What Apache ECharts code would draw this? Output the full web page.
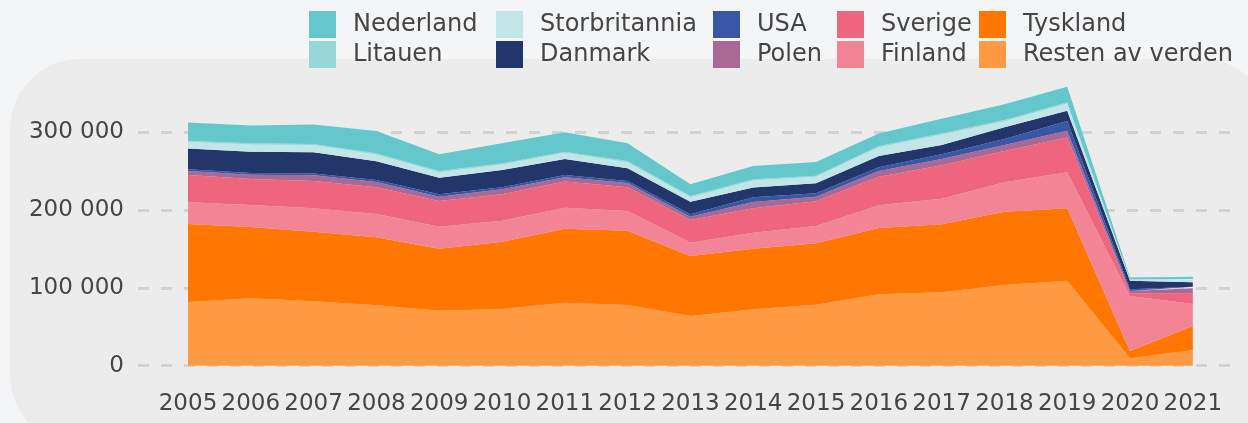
<!DOCTYPE html>
<html>
<head>
<meta charset="utf-8">
<script src="https://cdn.jsdelivr.net/npm/echarts@6/dist/echarts.min.js"></script>
<style>
html,body{margin:0;padding:0;background:#f4f5f7;}
#c{width:1248px;height:423px;}
</style>
</head>
<body>
<div id="c"></div>
<script>
// Data (values in persons/units)
const years = ['2005','2006','2007','2008','2009','2010','2011','2012','2013','2014','2015','2016','2017','2018','2019','2020','2021'];
const yTicks = [0, 100000, 200000, 300000];

const resten       = [81800, 86500, 82700, 77500, 70600, 72800, 80900, 77900, 63800, 72400, 78300, 91700, 94200, 103600, 109100, 9500, 20200];
const tyskland     = [100100, 91500, 89300, 87300, 79600, 86400, 95000, 95400, 77000, 77800, 78800, 85100, 87300, 94100, 92900, 9400, 30800];
const finland      = [27900, 28200, 30000, 29900, 28200, 27000, 27000, 25300, 17100, 20500, 22200, 29100, 32900, 37700, 46200, 70600, 28200];
const sverige      = [35000, 33400, 35000, 34300, 33000, 33900, 33400, 30400, 29100, 31300, 31700, 36700, 43000, 40200, 44900, 3500, 13700];
const polen        = [5000, 5500, 7500, 6800, 5500, 6400, 5600, 5500, 4200, 8100, 5900, 7300, 8000, 7700, 8500, 3000, 6400];
const usa          = [2500, 2200, 2200, 2600, 3100, 2600, 3000, 2600, 3100, 6000, 4400, 4700, 6000, 7700, 12500, 2200, 2100];
const danmark      = [26600, 27300, 27300, 24000, 21300, 22200, 20500, 16300, 16200, 12800, 12800, 14500, 12000, 15000, 13200, 10700, 5600];
const storbritannia= [8300, 9300, 9200, 8800, 7100, 7100, 7900, 7900, 5800, 8800, 8300, 11300, 13500, 7900, 9300, 1400, 3200];
const litauen      = [1500, 1500, 1500, 1500, 1500, 1500, 1500, 1500, 1500, 1500, 1500, 1500, 1500, 1500, 1500, 800, 1000];
const nederland    = [23600, 23100, 24900, 28600, 21400, 25700, 24900, 22700, 15000, 17100, 17600, 16300, 18500, 20200, 20000, 2100, 3000];

const seriesDefs = [
  ['Resten av verden', resten, '#ff9a42'],
  ['Tyskland', tyskland, '#ff7600'],
  ['Finland', finland, '#f28496'],
  ['Sverige', sverige, '#f0657e'],
  ['Polen', polen, '#a96996'],
  ['USA', usa, '#3a57a7'],
  ['Danmark', danmark, '#22366b'],
  ['Storbritannia', storbritannia, '#c2e6e7'],
  ['Litauen', litauen, '#96d8da'],
  ['Nederland', nederland, '#63c7cb']
];

const legendCols = [
  [['Nederland','Litauen'], 309],
  [['Storbritannia','Danmark'], 496],
  [['USA','Polen'], 713],
  [['Sverige','Finland'], 837],
  [['Tyskland','Resten av verden'], 979]
];

const FONT = 'DejaVu Sans';
const TXT = '#454545';

const chart = echarts.init(document.getElementById('c'), null, {renderer:'canvas'});

const option = {
  backgroundColor: '#f4f5f7',
  animation: false,
  graphic: [{
    type: 'rect',
    z: -100,
    silent: true,
    shape: {x: 10, y: 59, width: 1262, height: 386, r: 70},
    style: {fill: '#ececec'}
  }],
  legend: legendCols.map(([items, left]) => ({
    orient: 'vertical',
    left: left,
    top: 11,
    padding: 0,
    itemWidth: 27,
    itemHeight: 27,
    itemGap: 3,
    icon: 'rect',
    selectedMode: false,
    data: items,
    textStyle: {fontFamily: FONT, fontSize: 24, color: TXT, padding: [0,0,0,12]}
  })),
  grid: [
    {left: 138, right: 13, top: 132, bottom: 57.3},
    {left: 188, right: 55.2, top: 132, bottom: 57.3}
  ],
  xAxis: [
    {gridIndex: 0, type: 'value', min: 0, max: 1, show: false},
    {gridIndex: 1, type: 'category', data: years, boundaryGap: false,
      axisLine: {show: false}, axisTick: {show: false}, splitLine: {show: false},
      axisLabel: {interval: 0, margin: 27, fontFamily: FONT, fontSize: 23, color: TXT}}
  ],
  yAxis: [
    {gridIndex: 0, type: 'value', min: yTicks[0], max: yTicks[yTicks.length-1], interval: 100000,
      axisLine: {show: false}, axisTick: {show: false},
      axisLabel: {margin: 14, fontFamily: FONT, fontSize: 23, color: TXT,
        formatter: v => v === 0 ? '0' : String(v).replace(/\B(?=(\d{3})+(?!\d))/g, ' ')},
      splitLine: {show: true, lineStyle: {color: '#d2d2d2', width: 3, type: [11, 12]}}},
    {gridIndex: 1, type: 'value', min: yTicks[0], max: yTicks[yTicks.length-1], show: false, splitLine: {show: false}}
  ],
  series: seriesDefs.map(([name, data, color]) => ({
    name: name,
    type: 'line',
    xAxisIndex: 1,
    yAxisIndex: 1,
    stack: 'total',
    data: data,
    clip: false,
    symbol: 'none',
    showSymbol: false,
    color: color,
    itemStyle: {color: color},
    lineStyle: {width: 0, color: color},
    areaStyle: {color: color, opacity: 1},
    z: 3
  }))
};

chart.setOption(option);
</script>
</body>
</html>
